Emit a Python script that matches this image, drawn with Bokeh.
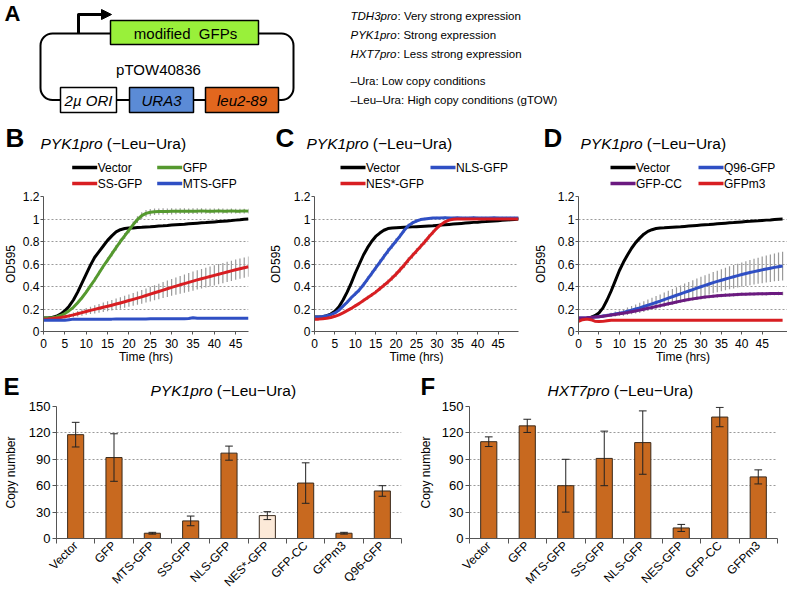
import math
from bokeh.plotting import figure
from bokeh.layouts import column, row
from bokeh.models import Range1d, FixedTicker, CustomJSTickFormatter, Arrow, NormalHead, ColumnDataSource
from bokeh.core.properties import value
from bokeh.embed import file_html
from bokeh.resources import INLINE

FONT = "Liberation Sans"

# ---------------- data ----------------
hours_B = list(range(0, 49))
hours_CD = list(range(0, 51))
time_ticks = [0, 5, 10, 15, 20, 25, 30, 35, 40, 45]
od_ticks = [0, 0.2, 0.4, 0.6, 0.8, 1.0, 1.2]
copy_ticks = [0, 30, 60, 90, 120, 150]

# Panel B
vector_B = [0.12, 0.12, 0.125, 0.135, 0.155, 0.185, 0.225, 0.28, 0.35, 0.43,
            0.51, 0.59, 0.66, 0.71, 0.76, 0.81, 0.85, 0.885, 0.905, 0.915,
            0.92, 0.921, 0.924, 0.926, 0.929, 0.931, 0.934, 0.937, 0.939, 0.942,
            0.946, 0.949, 0.952, 0.954, 0.957, 0.96, 0.963, 0.966, 0.968, 0.971,
            0.974, 0.977, 0.98, 0.983, 0.986, 0.99, 0.993, 0.997, 1.0]
gfp_B = [0.12, 0.12, 0.123, 0.13, 0.142, 0.16, 0.185, 0.215, 0.255, 0.30,
         0.35, 0.405, 0.46, 0.52, 0.58, 0.635, 0.69, 0.745, 0.80, 0.85,
         0.90, 0.95, 0.995, 1.03, 1.05, 1.06, 1.065, 1.066, 1.067, 1.066,
         1.068, 1.068, 1.07, 1.07, 1.069, 1.07, 1.07, 1.071, 1.07, 1.07,
         1.07, 1.071, 1.07, 1.07, 1.071, 1.07, 1.07, 1.071, 1.07]
gfp_B_sd = [0.005, 0.005, 0.005, 0.006, 0.007, 0.008, 0.01, 0.012, 0.013, 0.015,
            0.016, 0.018, 0.019, 0.02, 0.021, 0.022, 0.023, 0.024, 0.025, 0.026,
            0.027, 0.028, 0.03, 0.031, 0.03, 0.03, 0.029, 0.028, 0.028, 0.027,
            0.027, 0.026, 0.026, 0.026, 0.025, 0.025, 0.025, 0.024, 0.024, 0.024,
            0.023, 0.023, 0.023, 0.022, 0.022, 0.022, 0.021, 0.021, 0.021]
ss_B = [0.11, 0.112, 0.115, 0.119, 0.124, 0.131, 0.139, 0.148, 0.158, 0.168,
        0.178, 0.188, 0.197, 0.206, 0.215, 0.224, 0.234, 0.244, 0.254, 0.264,
        0.275, 0.286, 0.297, 0.308, 0.32, 0.332, 0.344, 0.356, 0.368, 0.38,
        0.392, 0.403, 0.415, 0.426, 0.437, 0.448, 0.459, 0.469, 0.479, 0.489,
        0.499, 0.509, 0.519, 0.529, 0.539, 0.549, 0.558, 0.567, 0.576]
ss_B_sd = [0.004, 0.006, 0.008, 0.01, 0.012, 0.015, 0.018, 0.021, 0.024, 0.027,
           0.03, 0.033, 0.036, 0.039, 0.042, 0.045, 0.047, 0.049, 0.051, 0.053,
           0.055, 0.057, 0.059, 0.061, 0.063, 0.065, 0.067, 0.069, 0.071, 0.073,
           0.075, 0.077, 0.079, 0.081, 0.083, 0.085, 0.086, 0.087, 0.088, 0.089,
           0.09, 0.09, 0.09, 0.09, 0.09, 0.09, 0.09, 0.09, 0.09]
mts_B = [0.10, 0.10, 0.10, 0.10, 0.10, 0.10, 0.105, 0.11, 0.11, 0.11,
         0.11, 0.11, 0.11, 0.11, 0.11, 0.11, 0.11, 0.111, 0.111, 0.111,
         0.112, 0.112, 0.112, 0.112, 0.112, 0.113, 0.113, 0.113, 0.113, 0.113,
         0.113, 0.113, 0.114, 0.114, 0.115, 0.122, 0.117, 0.118, 0.118, 0.118,
         0.118, 0.118, 0.118, 0.118, 0.118, 0.118, 0.118, 0.118, 0.118]

# Panel C
vector_C = [0.13, 0.13, 0.132, 0.14, 0.155, 0.18, 0.22, 0.28, 0.35, 0.43,
            0.52, 0.60, 0.68, 0.745, 0.80, 0.845, 0.875, 0.90, 0.915, 0.92,
            0.922, 0.924, 0.926, 0.928, 0.93, 0.932, 0.934, 0.936, 0.938, 0.94,
            0.943, 0.946, 0.949, 0.952, 0.955, 0.958, 0.961, 0.964, 0.967, 0.97,
            0.972, 0.975, 0.977, 0.98, 0.982, 0.985, 0.988, 0.99, 0.993, 0.996,
            1.0]
nls_C = [0.13, 0.13, 0.133, 0.14, 0.15, 0.165, 0.19, 0.225, 0.26, 0.30,
         0.335, 0.37, 0.415, 0.465, 0.515, 0.565, 0.615, 0.665, 0.715, 0.76,
         0.805, 0.85, 0.9, 0.94, 0.965, 0.982, 0.995, 1.0, 1.005, 1.008,
         1.01, 1.01, 1.012, 1.01, 1.01, 1.011, 1.01, 1.01, 1.01, 1.012,
         1.01, 1.01, 1.01, 1.01, 1.011, 1.01, 1.01, 1.01, 1.01, 1.01,
         1.01]
nls_C_sd = [0.005, 0.005, 0.006, 0.007, 0.008, 0.01, 0.012, 0.014, 0.016, 0.018,
            0.02, 0.021, 0.022, 0.023, 0.024, 0.025, 0.025, 0.025, 0.025, 0.024,
            0.023, 0.022, 0.02, 0.018, 0.016, 0.014, 0.012, 0.011, 0.01, 0.01,
            0.01, 0.01, 0.01, 0.01, 0.01, 0.01, 0.01, 0.01, 0.01, 0.01,
            0.01, 0.01, 0.01, 0.01, 0.01, 0.01, 0.01, 0.01, 0.01, 0.01,
            0.01]
nes_C = [0.11, 0.11, 0.113, 0.118, 0.125, 0.135, 0.148, 0.165, 0.185, 0.205,
         0.228, 0.25, 0.275, 0.30, 0.325, 0.35, 0.38, 0.41, 0.44, 0.475,
         0.51, 0.55, 0.59, 0.635, 0.675, 0.715, 0.755, 0.795, 0.84, 0.88,
         0.92, 0.95, 0.975, 0.99, 0.997, 1.0, 1.0, 1.0, 1.0, 1.0,
         1.0, 1.0, 1.0, 1.0, 1.0, 1.0, 1.0, 1.0, 1.0, 1.0,
         1.0]
nes_C_sd = [0.004, 0.004, 0.005, 0.006, 0.007, 0.008, 0.009, 0.01, 0.012, 0.013,
            0.014, 0.015, 0.016, 0.017, 0.018, 0.019, 0.02, 0.021, 0.022, 0.023,
            0.024, 0.025, 0.025, 0.025, 0.025, 0.025, 0.024, 0.023, 0.022, 0.02,
            0.018, 0.015, 0.012, 0.01, 0.009, 0.008, 0.008, 0.008, 0.008, 0.008,
            0.008, 0.008, 0.008, 0.008, 0.008, 0.008, 0.008, 0.008, 0.008, 0.008,
            0.008]

# Panel D
vector_D = [0.11, 0.11, 0.115, 0.125, 0.14, 0.165, 0.21, 0.28, 0.36, 0.45,
            0.54, 0.615, 0.68, 0.74, 0.79, 0.83, 0.865, 0.89, 0.905, 0.915,
            0.92, 0.922, 0.925, 0.927, 0.929, 0.931, 0.934, 0.937, 0.94, 0.943,
            0.946, 0.949, 0.951, 0.954, 0.957, 0.96, 0.963, 0.966, 0.968, 0.971,
            0.974, 0.977, 0.979, 0.982, 0.984, 0.987, 0.99, 0.992, 0.995, 0.998,
            1.0]
q96_D = [0.12, 0.12, 0.122, 0.125, 0.128, 0.132, 0.137, 0.142, 0.148, 0.155,
         0.162, 0.17, 0.18, 0.19, 0.2, 0.21, 0.222, 0.234, 0.246, 0.258,
         0.27, 0.283, 0.296, 0.309, 0.322, 0.335, 0.348, 0.36, 0.373, 0.386,
         0.398, 0.41, 0.422, 0.434, 0.445, 0.456, 0.467, 0.477, 0.487, 0.497,
         0.506, 0.515, 0.524, 0.532, 0.54, 0.548, 0.556, 0.563, 0.57, 0.576,
         0.582]
q96_D_sd = [0.004, 0.005, 0.006, 0.008, 0.01, 0.012, 0.014, 0.016, 0.019, 0.022,
            0.025, 0.029, 0.033, 0.037, 0.041, 0.045, 0.048, 0.051, 0.054, 0.057,
            0.06, 0.063, 0.066, 0.069, 0.072, 0.075, 0.078, 0.081, 0.083, 0.085,
            0.088, 0.09, 0.092, 0.094, 0.096, 0.098, 0.1, 0.102, 0.104, 0.106,
            0.108, 0.11, 0.112, 0.114, 0.116, 0.118, 0.12, 0.122, 0.124, 0.126,
            0.128]
gfpcc_D = [0.12, 0.12, 0.122, 0.125, 0.128, 0.132, 0.136, 0.141, 0.146, 0.151,
           0.157, 0.163, 0.169, 0.176, 0.183, 0.19, 0.198, 0.206, 0.214, 0.222,
           0.23, 0.238, 0.246, 0.254, 0.262, 0.27, 0.277, 0.284, 0.29, 0.296,
           0.301, 0.306, 0.31, 0.314, 0.317, 0.32, 0.323, 0.325, 0.327, 0.329,
           0.331, 0.332, 0.333, 0.334, 0.335, 0.336, 0.336, 0.337, 0.337, 0.338,
           0.338]
gfpcc_D_sd = [0.004, 0.004, 0.005, 0.005, 0.006, 0.006, 0.007, 0.007, 0.008, 0.008,
              0.009, 0.009, 0.01, 0.01, 0.011, 0.011, 0.012, 0.012, 0.013, 0.013,
              0.014, 0.014, 0.015, 0.015, 0.015, 0.016, 0.016, 0.016, 0.016, 0.016,
              0.016, 0.016, 0.016, 0.016, 0.016, 0.016, 0.016, 0.016, 0.016, 0.016,
              0.015, 0.015, 0.015, 0.015, 0.015, 0.015, 0.015, 0.015, 0.015, 0.015,
              0.015]
gfpm3_D = [0.09, 0.105, 0.11, 0.105, 0.092, 0.088, 0.09, 0.096, 0.099, 0.1,
           0.1, 0.1, 0.101, 0.1, 0.1, 0.1, 0.1, 0.101, 0.1, 0.1,
           0.1, 0.1, 0.1, 0.101, 0.1, 0.1, 0.1, 0.1, 0.1, 0.101,
           0.1, 0.1, 0.1, 0.1, 0.1, 0.1, 0.101, 0.1, 0.1, 0.1,
           0.1, 0.1, 0.1, 0.1, 0.101, 0.1, 0.1, 0.1, 0.1, 0.1,
           0.1]

# Panel E / F copy numbers
cats_E = ["Vector", "GFP", "MTS-GFP", "SS-GFP", "NLS-GFP", "NES*-GFP", "GFP-CC", "GFPm3", "Q96-GFP"]
copy_E = [118, 92, 6, 20, 97, 26, 63, 6, 54]
err_E = [14, 27, 1, 5.5, 8, 4.5, 23, 1, 6]
light_E = ["NES*-GFP"]
cats_F = ["Vector", "GFP", "MTS-GFP", "SS-GFP", "NLS-GFP", "NES-GFP", "GFP-CC", "GFPm3"]
copy_F = [110, 128, 60, 91, 109, 12, 138, 70]
err_F = [5.5, 7.5, 30, 31, 36, 4, 11, 8]

# ---------------- style ----------------
BLACK = "#000000"
GREEN = "#55992F"
RED = "#D81E22"
BLUE = "#2F4FC4"
PURPLE = "#6B1A80"
ERRGRAY = "#9a9a9a"
BAR = "#C8691F"
BAR_LIGHT = "#FCE9D8"
AXIS = "#555555"
GRID = "#9a9a9a"


def deco(width, height, y0, y1):
    p = figure(width=width, height=height, x_range=Range1d(0, width), y_range=Range1d(y1, y0),
               output_backend="svg", toolbar_location=None, x_axis_type=None, y_axis_type=None,
               min_border=0, title=None)
    p.outline_line_color = None
    return p


def txt(p, x, y, s, size="12px", style="normal", align="left", color="black"):
    p.text(x=[x], y=[y], text=[s], text_font=value(FONT), text_font_size=value(size),
           text_font_style=style, text_align=align, text_baseline="middle", text_color=color)


def legend(p, entries):
    for label, color, x, y in entries:
        p.segment(x0=[x], y0=[y], x1=[x + 25], y1=[y], line_color=color, line_width=3.5)
        txt(p, x + 25.5, y, label, size="12px")


# ---------------- strip 1 : panel A + headers of B, C, D ----------------
s1 = deco(787, 191, 0, 191)
txt(s1, 4, 13, "A", size="22px", style="bold")
s1.quad(left=[40], right=[293], top=[33], bottom=[99.5], fill_color=None,
        line_color="black", line_width=2, border_radius=12)
s1.line(x=[78, 78, 103], y=[33, 14, 14], line_color="black", line_width=3, line_join="round")
s1.add_layout(Arrow(end=NormalHead(size=10, fill_color="black", line_color="black"),
                    x_start=100, y_start=14, x_end=111, y_end=14, line_width=3, line_color="black"))
s1.quad(left=[110], right=[258], top=[20], bottom=[44], fill_color="#99F03A",
        line_color="black", line_width=1.5)
txt(s1, 185, 32.5, "modified\u00a0 GFPs", size="15px", align="center")
txt(s1, 158, 69, "pTOW40836", size="15px", align="center")
s1.quad(left=[60, 129, 205], right=[116, 193, 278], top=[87, 87, 87], bottom=[112, 112, 112],
        fill_color=["white", "#5B8BD6", "#E2671E"], line_color="black", line_width=1.5)
txt(s1, 88, 100, "2µ ORI", size="15px", style="italic", align="center")
txt(s1, 161, 100, "URA3", size="15px", style="italic", align="center")
txt(s1, 241.5, 100, "leu2-89", size="15px", style="italic", align="center")

txt(s1, 350, 15, "TDH3pro", size="11.5px", style="italic")
txt(s1, 397, 15, ": Very strong expression", size="11.5px")
txt(s1, 350, 34, "PYK1pro", size="11.5px", style="italic")
txt(s1, 396.5, 34, ": Strong expression", size="11.5px")
txt(s1, 350, 53, "HXT7pro", size="11.5px", style="italic")
txt(s1, 396.5, 53, ": Less strong expression", size="11.5px")
txt(s1, 350, 80, "\u2013Ura: Low copy conditions", size="11.5px")
txt(s1, 350, 99, "\u2013Leu\u2013Ura: High copy conditions (gTOW)", size="11.5px")

for letter, lx, tx in [("B", 5, 40), ("C", 275, 306), ("D", 543, 580)]:
    txt(s1, lx, 137, letter, size="26px", style="bold")
    txt(s1, tx, 143, "PYK1pro", size="15.5px", style="italic")
    txt(s1, tx + 66.3, 143, "(\u2212Leu\u2212Ura)", size="15.5px")

legend(s1, [("Vector", BLACK, 71.7, 167), ("GFP", GREEN, 156.7, 167),
            ("SS-GFP", RED, 71.7, 183), ("MTS-GFP", BLUE, 156.7, 183)])
legend(s1, [("Vector", BLACK, 340, 167), ("NLS-GFP", BLUE, 430, 167),
            ("NES*-GFP", RED, 340, 183)])
legend(s1, [("Vector", BLACK, 610, 167), ("Q96-GFP", BLUE, 698, 167),
            ("GFP-CC", PURPLE, 610, 183), ("GFPm3", RED, 698, 183)])


# ---------------- strip 2 : growth curves ----------------
def growth_fig(width, left, right, xmax, lab_standoff):
    p = figure(width=width, height=176, x_range=Range1d(0, xmax), y_range=Range1d(0, 1.2),
               output_backend="svg", toolbar_location=None, title=None,
               min_border_left=left, min_border_right=right, min_border_top=5, min_border_bottom=36)
    p.outline_line_color = None
    p.xgrid.visible = False
    p.ygrid.ticker = FixedTicker(ticks=od_ticks)
    p.ygrid.grid_line_color = GRID
    p.ygrid.grid_line_dash = "2 2"
    p.xaxis.ticker = FixedTicker(ticks=time_ticks)
    p.yaxis.ticker = FixedTicker(ticks=od_ticks)
    p.yaxis.formatter = CustomJSTickFormatter(code="return String(Math.round(tick*10)/10);")
    p.xaxis.axis_label = "Time (hrs)"
    p.yaxis.axis_label = "OD595"
    for ax in p.axis:
        ax.axis_line_color = AXIS
        ax.major_tick_line_color = AXIS
        ax.minor_tick_line_color = None
        ax.major_tick_in = 0
        ax.major_tick_out = 3
        ax.major_label_standoff = 1
        ax.major_label_text_font = FONT
        ax.major_label_text_font_size = "12px"
        ax.major_label_text_color = "black"
        ax.axis_label_text_font = FONT
        ax.axis_label_text_font_size = "12px"
        ax.axis_label_text_font_style = "normal"
        ax.axis_label_text_color = "black"
    p.xaxis.major_label_standoff = 4
    p.xaxis.axis_label_standoff = -1
    p.yaxis.axis_label_standoff = lab_standoff
    return p


def err(p, t, y, sd):
    p.segment(x0=t, y0=[a - b for a, b in zip(y, sd)], x1=t, y1=[a + b for a, b in zip(y, sd)],
              line_color=ERRGRAY, line_width=1.2)


pB = growth_fig(265, 43, 17, 48, 2)
err(pB, hours_B, gfp_B, gfp_B_sd)
err(pB, hours_B, ss_B, ss_B_sd)
pB.line(hours_B, vector_B, line_color=BLACK, line_width=3)
pB.line(hours_B, gfp_B, line_color=GREEN, line_width=3)
pB.line(hours_B, ss_B, line_color=RED, line_width=3)
pB.line(hours_B, mts_B, line_color=BLUE, line_width=3)

pC = growth_fig(265, 48, 12, 50, 8)
err(pC, hours_CD, nls_C, nls_C_sd)
err(pC, hours_CD, nes_C, nes_C_sd)
pC.line(hours_CD, vector_C, line_color=BLACK, line_width=3)
pC.line(hours_CD, nls_C, line_color=BLUE, line_width=3)
pC.line(hours_CD, nes_C, line_color=RED, line_width=3)

pD = growth_fig(257, 47, 0, 51.2, 7)
err(pD, hours_CD, q96_D, q96_D_sd)
err(pD, hours_CD, gfpcc_D, gfpcc_D_sd)
pD.line(hours_CD, vector_D, line_color=BLACK, line_width=3)
pD.line(hours_CD, q96_D, line_color=BLUE, line_width=3)
pD.line(hours_CD, gfpcc_D, line_color=PURPLE, line_width=3)
pD.line(hours_CD, gfpm3_D, line_color=RED, line_width=3)

# ---------------- strip 3 : headers of E, F ----------------
s3 = deco(787, 33, 367, 400)
txt(s3, 3, 386, "E", size="24px", style="bold")
txt(s3, 150, 390, "PYK1pro", size="15.5px", style="italic")
txt(s3, 216.3, 390, "(\u2212Leu\u2212Ura)", size="15.5px")
txt(s3, 420, 386, "F", size="24px", style="bold")
txt(s3, 547, 390, "HXT7pro", size="15.5px", style="italic")
txt(s3, 613.3, 390, "(\u2212Leu\u2212Ura)", size="15.5px")


# ---------------- strip 4 : copy number bars ----------------
def bar_fig(width, left, right, cats, vals, errs, lab_standoff):
    n = len(cats)
    pos = list(range(1, n + 1))
    p = figure(width=width, height=197, x_range=Range1d(0.5, n + 0.5), y_range=Range1d(0, 150),
               output_backend="svg", toolbar_location=None, title=None,
               min_border_left=left, min_border_right=right, min_border_top=6, min_border_bottom=50)
    p.outline_line_color = None
    p.xgrid.visible = False
    p.ygrid.ticker = FixedTicker(ticks=copy_ticks)
    p.ygrid.grid_line_color = GRID
    p.ygrid.grid_line_dash = "2 2"
    p.yaxis.ticker = FixedTicker(ticks=copy_ticks)
    p.xaxis.ticker = FixedTicker(ticks=pos, minor_ticks=[i + 0.5 for i in range(n + 1)])
    p.xaxis.major_label_overrides = {i: c for i, c in zip(pos, cats)}
    p.xaxis.major_label_orientation = math.pi / 4
    p.yaxis.axis_label = "Copy number"
    for ax in p.axis:
        ax.axis_line_color = AXIS
        ax.major_tick_line_color = AXIS
        ax.major_tick_in = 0
        ax.major_tick_out = 4
        ax.major_label_standoff = 2
        ax.major_label_text_font = FONT
        ax.major_label_text_font_size = "13px"
        ax.major_label_text_color = "black"
        ax.axis_label_text_font = FONT
        ax.axis_label_text_font_size = "12px"
        ax.axis_label_text_font_style = "normal"
        ax.axis_label_text_color = "black"
    p.yaxis.minor_tick_line_color = None
    p.xaxis.major_tick_out = 0
    p.xaxis.minor_tick_out = 5
    p.xaxis.minor_tick_in = 0
    p.xaxis.minor_tick_line_color = AXIS
    p.xaxis.major_label_standoff = 0
    p.xaxis.major_label_text_font_size = "12px"
    p.yaxis.axis_label_standoff = lab_standoff
    fills = [BAR_LIGHT if c in light_E else BAR for c in cats]
    src = ColumnDataSource(dict(x=pos, top=vals, fill=fills,
                                lo=[v - e for v, e in zip(vals, errs)],
                                hi=[v + e for v, e in zip(vals, errs)],
                                xl=[x - 0.1 for x in pos], xr=[x + 0.1 for x in pos]))
    p.vbar(x="x", top="top", width=0.42, fill_color="fill", line_color="#3a2a1c", line_width=1, source=src)
    p.segment(x0="x", y0="lo", x1="x", y1="hi", line_color="#222222", line_width=1, source=src)
    p.segment(x0="xl", y0="hi", x1="xr", y1="hi", line_color="#222222", line_width=1, source=src)
    p.segment(x0="xl", y0="lo", x1="xr", y1="lo", line_color="#222222", line_width=1, source=src)
    return p


pE = bar_fig(415, 56, 14, cats_E, copy_E, err_E, 8)
pF = bar_fig(372, 54, 10, cats_F, copy_F, err_F, 6)

layout = column(s1, row(pB, pC, pD), s3, row(pE, pF))
open("out.html", "w").write(file_html(layout, INLINE))
